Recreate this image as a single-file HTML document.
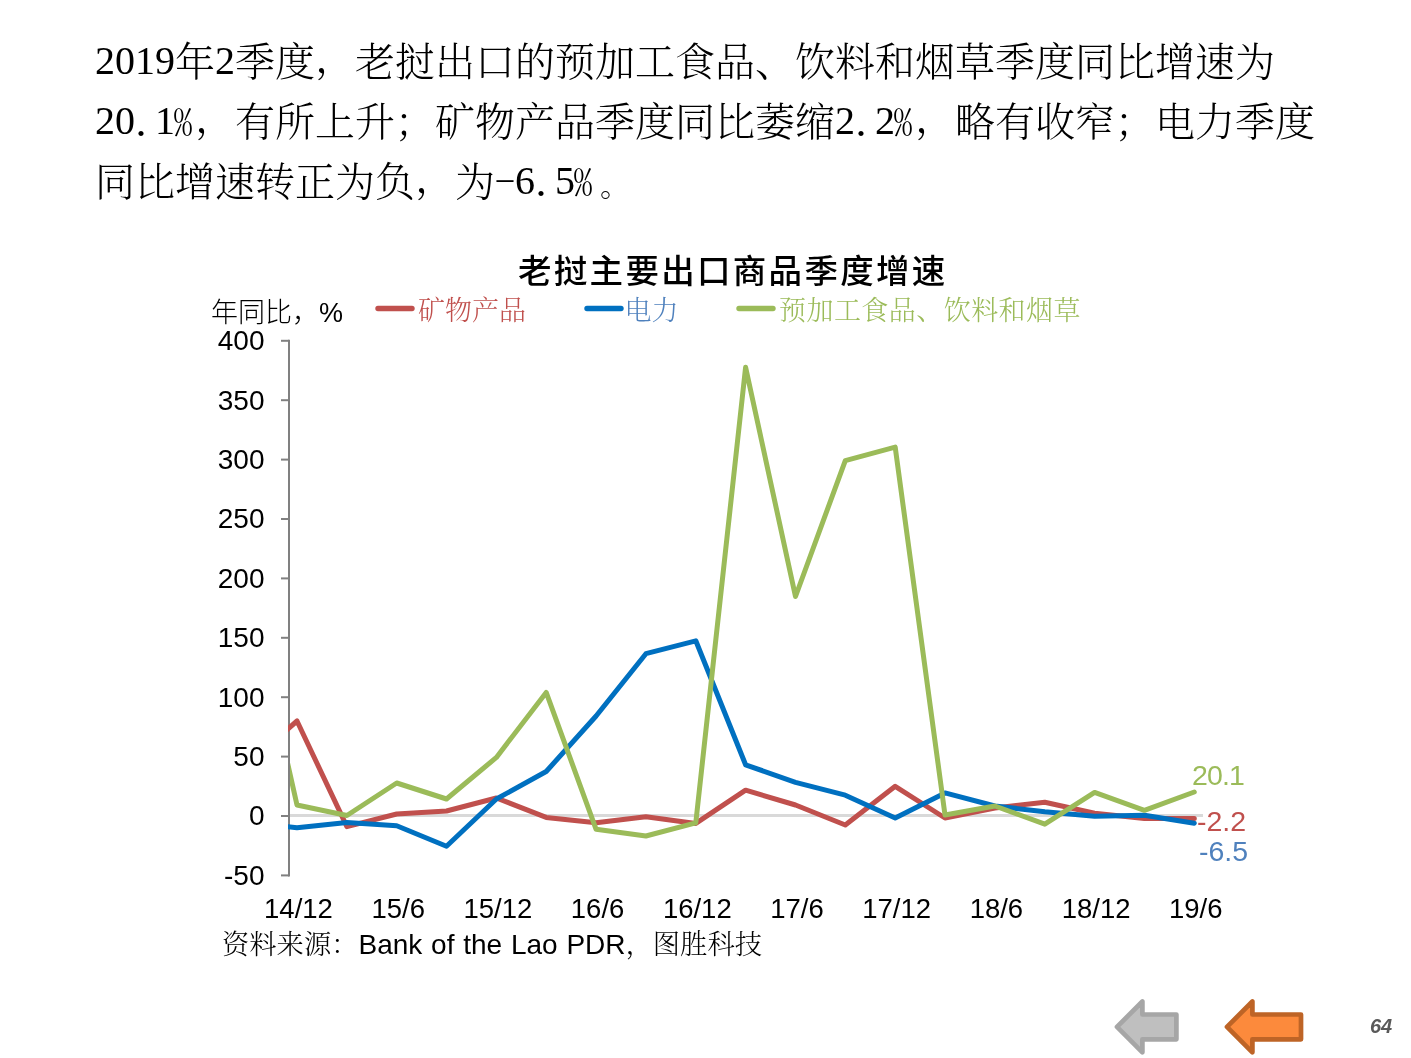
<!DOCTYPE html>
<html lang="zh"><head><meta charset="utf-8"><title>老挝主要出口商品季度增速</title>
<style>
html,body{margin:0;padding:0;background:#fff;}
body{width:1411px;height:1058px;position:relative;overflow:hidden;font-family:"Liberation Sans","Noto Sans CJK SC",sans-serif;color:#000;}
.abs{position:absolute;white-space:nowrap;}
.para{position:absolute;left:95px;top:28.5px;width:1260px;font-family:"Noto Serif CJK SC",serif;font-size:40px;line-height:60px;font-weight:300;color:#000;}
.para .ln{display:block;white-space:nowrap;height:60px;}
.hw{font-feature-settings:"hwid" 1;}
.dg{font-family:"Liberation Serif",serif;position:relative;top:-2px;}
.dot{font-weight:500;font-feature-settings:"hwid" 1;position:relative;left:-4px;top:-1px;}
.cm{position:relative;top:-4px;}
.fs{display:inline-block;width:40px;font-size:30px;line-height:1;position:relative;left:5px;top:0px;}
.pc{font-feature-settings:"hwid" 1;font-size:37px;display:inline-block;width:20px;text-align:center;line-height:1;position:relative;left:-2px;}
.title{left:518px;top:244px;font-family:"Noto Sans CJK SC",sans-serif;font-weight:500;font-size:33.5px;letter-spacing:2.3px;line-height:50px;}
.yl{position:absolute;left:164.5px;width:100px;text-align:right;font-size:28px;line-height:30px;font-family:"Liberation Sans",sans-serif;}
.xl{position:absolute;top:894px;width:100px;text-align:center;font-size:27.5px;line-height:30px;font-family:"Liberation Sans",sans-serif;}
.lg{font-family:"Noto Serif CJK SC",serif;font-weight:300;font-size:27px;line-height:34px;top:292px;}
.dl{font-size:28.5px;line-height:30px;font-family:"Liberation Sans",sans-serif;}
svg{position:absolute;left:0;top:0;}
</style></head><body>
<div class="para"><span class="ln"><span class="dg">2019</span>年<span class="dg">2</span>季度<span class="cm">，</span>老挝出口的预加工食品、饮料和烟草季度同比增速为</span><span class="ln"><span class="dg">20</span><span class="dot">.</span><span class="dg">1</span><span class="pc">%</span><span class="cm">，</span>有所上升；矿物产品季度同比萎缩<span class="dg">2</span><span class="dot">.</span><span class="dg">2</span><span class="pc">%</span><span class="cm">，</span>略有收窄；电力季度</span><span class="ln">同比增速转正为负<span class="cm">，</span>为<span class="hw">-</span><span class="dg">6</span><span class="dot">.</span><span class="dg">5</span><span class="pc">%</span><span class="fs">。</span></span></div>
<div class="abs title">老挝主要出口商品季度增速</div>
<div class="abs" style="left:211px;top:295.5px;font-weight:300;font-size:27px;line-height:34px;font-family:'Liberation Sans','Noto Sans CJK SC',sans-serif;">年同比，%</div>
<div class="abs lg" style="left:418px;color:#C0504D;">矿物产品</div>
<div class="abs lg" style="left:624.5px;color:#4F81BD;">电力</div>
<div class="abs lg" style="left:779px;color:#9BBB59;letter-spacing:0.45px;">预加工食品、饮料和烟草</div>
<div class="yl" style="top:326.1px">400</div><div class="yl" style="top:385.5px">350</div><div class="yl" style="top:444.9px">300</div><div class="yl" style="top:504.3px">250</div><div class="yl" style="top:563.7px">200</div><div class="yl" style="top:623.1px">150</div><div class="yl" style="top:682.5px">100</div><div class="yl" style="top:741.9px">50</div><div class="yl" style="top:801.3px">0</div><div class="yl" style="top:860.7px">-50</div>
<div class="xl" style="left:248.5px">14/12</div><div class="xl" style="left:348.2px">15/6</div><div class="xl" style="left:447.9px">15/12</div><div class="xl" style="left:547.6px">16/6</div><div class="xl" style="left:647.3px">16/12</div><div class="xl" style="left:747.0px">17/6</div><div class="xl" style="left:846.7px">17/12</div><div class="xl" style="left:946.4px">18/6</div><div class="xl" style="left:1046.1px">18/12</div><div class="xl" style="left:1145.8px">19/6</div>
<svg width="1411" height="1058" viewBox="0 0 1411 1058">
<defs><clipPath id="cp"><rect x="288" y="330" width="930" height="560"/></clipPath><clipPath id="cg"><rect x="290" y="330" width="930" height="560"/></clipPath></defs>
<line x1="290" y1="815.6" x2="1203" y2="815.6" stroke="#D9D9D9" stroke-width="3"/>
<g stroke="#808080" stroke-width="2" fill="none">
<line x1="289" y1="339.8" x2="289" y2="876.4"/>
<line x1="281" y1="340.8" x2="289" y2="340.8"/><line x1="281" y1="400.2" x2="289" y2="400.2"/><line x1="281" y1="459.6" x2="289" y2="459.6"/><line x1="281" y1="519.0" x2="289" y2="519.0"/><line x1="281" y1="578.4" x2="289" y2="578.4"/><line x1="281" y1="637.8" x2="289" y2="637.8"/><line x1="281" y1="697.2" x2="289" y2="697.2"/><line x1="281" y1="756.6" x2="289" y2="756.6"/><line x1="281" y1="816.0" x2="289" y2="816.0"/><line x1="281" y1="875.4" x2="289" y2="875.4"/>
</g>
<g clip-path="url(#cp)" fill="none" stroke-width="5" stroke-linejoin="round" stroke-linecap="round">
<polyline stroke="#C0504D" points="247.2,764.6 297.0,721.0 346.9,826.6 396.7,814.0 446.5,811.0 496.4,798.0 546.2,817.4 596.1,822.8 645.9,816.8 695.8,823.4 745.6,790.2 795.5,805.0 845.3,825.0 895.2,786.3 945.0,818.0 994.9,808.0 1044.8,802.3 1094.6,813.3 1144.4,818.6 1194.3,818.6"/>
<polyline stroke="#0070C0" points="247.2,821.6 297.0,827.8 346.9,822.5 396.7,825.8 446.5,846.3 496.4,799.0 546.2,771.5 596.1,716.0 645.9,653.7 695.8,640.8 745.6,764.8 795.5,782.3 845.3,795.2 895.2,818.0 945.0,792.9 994.9,806.0 1044.8,811.7 1094.6,816.2 1144.4,815.2 1194.3,823.2"/>
<polyline clip-path="url(#cg)" stroke="#9BBB59" points="247.2,583.8 297.0,805.0 346.9,815.5 396.7,783.0 446.5,799.0 496.4,757.4 546.2,692.4 596.1,829.3 645.9,836.0 695.8,822.8 745.6,367.3 795.5,596.5 845.3,460.6 895.2,447.1 945.0,815.0 994.9,806.0 1044.8,824.2 1094.6,792.4 1144.4,810.3 1194.3,792.0"/>
</g>
<g stroke-width="5.4" stroke-linecap="round">
<line x1="378" y1="308.5" x2="412" y2="308.5" stroke="#C0504D"/>
<line x1="587" y1="308.5" x2="621" y2="308.5" stroke="#0070C0"/>
<line x1="739" y1="308.5" x2="773" y2="308.5" stroke="#9BBB59"/>
</g>
<g stroke-width="4.7" stroke-linejoin="round">
<path d="M1117 1026.9 L1142.4 1001.5 L1142.4 1014.5 L1176.4 1014.5 L1176.4 1039.3 L1142.4 1039.3 L1142.4 1052.3 Z" fill="#BFBFBF" stroke="#A6A6A6"/>
<path d="M1227 1026.9 L1252.4 1001.5 L1252.4 1014.5 L1301 1014.5 L1301 1039.3 L1252.4 1039.3 L1252.4 1052.3 Z" fill="#FC8A3C" stroke="#BE6426"/>
</g>
</svg>
<div class="abs dl" style="left:1192px;top:760px;letter-spacing:-0.9px;color:#9BBB59;">20.1</div>
<div class="abs dl" style="left:1197px;top:806px;color:#C0504D;">-2.2</div>
<div class="abs dl" style="left:1199px;top:836px;color:#4F81BD;">-6.5</div>
<div class="abs" style="left:222px;top:928px;font-size:27.3px;line-height:34px;font-weight:300;font-family:'Liberation Sans','Noto Serif CJK SC',serif;">资料来源：<span style="font-size:28px;font-weight:400;word-spacing:1px;">Bank of the Lao PDR</span>，图胜科技</div>
<div class="abs" style="left:1370px;top:1013px;font-size:20px;line-height:26px;font-weight:700;font-style:italic;color:#595959;font-family:'Liberation Sans',sans-serif;">64</div>
</body></html>
